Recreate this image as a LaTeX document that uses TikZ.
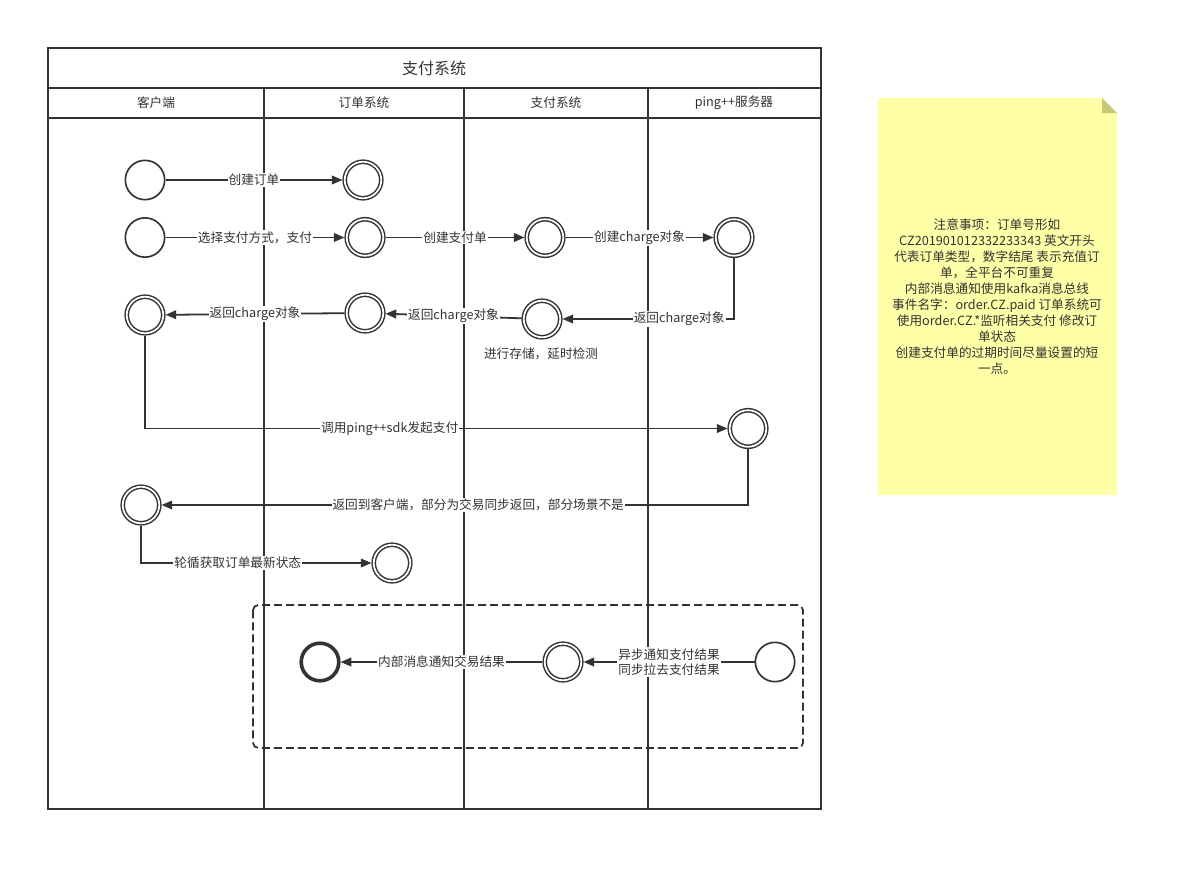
\documentclass[tikz,border=0pt]{standalone}
\usepackage{fontspec}
\setmainfont{Noto Sans CJK SC}
\usetikzlibrary{arrows.meta}
\tikzset{every picture/.style={line width=0.75pt}}
\tikzset{
  pool/.style={draw={rgb, 255:red, 51; green, 51; blue, 51 }, line width=1.5pt},
  lanetitle/.style={text={rgb, 255:red, 51; green, 51; blue, 51 }, font=\fontsize{9.5}{11}\selectfont},
  state/.style={circle, draw={rgb, 255:red, 51; green, 51; blue, 51 }, line width=1.25pt, minimum size=29.5pt, inner sep=0pt, fill=white},
  dstate/.style={circle, draw={rgb, 255:red, 51; green, 51; blue, 51 }, line width=1.1pt, double=white, double distance=1.3pt, minimum size=27.4pt, inner sep=0pt, outer sep=1.7pt},
  endstate/.style={circle, draw={rgb, 255:red, 51; green, 51; blue, 51 }, line width=2.7pt, minimum size=28.2pt, inner sep=0pt, fill=white},
  flow/.style={draw={rgb, 255:red, 51; green, 51; blue, 51 }, line width=1.35pt, -{Triangle[length=8pt,width=6.5pt]}},
  flowlabel/.style={fill=white, inner sep=0.8pt, text={rgb, 255:red, 51; green, 51; blue, 51 }, font=\fontsize{9.5}{11.5}\selectfont, align=center},
}

\begin{document}
\begin{tikzpicture}[x=0.75pt,y=0.75pt,yscale=-1,xscale=1]
\useasboundingbox (0,0) rectangle (1180,872);

%Pool
\draw [pool] (48,48) rectangle (821,809);
\draw [pool] (48,88) -- (821,88);
\draw [pool] (48,118) -- (821,118);
\foreach \lx in {264,464,648} {
  \draw [pool] (\lx,88) -- (\lx,809);
}
\node [text={rgb, 255:red, 51; green, 51; blue, 51 }, font=\fontsize{12}{14}\selectfont] (pooltitle) at (434,68) {支付系统};
\node [lanetitle] (lanekehu) at (156,103) {客户端};
\node [lanetitle] (lanedingdan) at (364,103) {订单系统};
\node [lanetitle] (lanezhifu) at (556,103) {支付系统};
\node [lanetitle] (laneping) at (734,103) {ping++服务器};

%Dashed group
\draw [draw={rgb, 255:red, 51; green, 51; blue, 51 }, line width=1.35pt, dash pattern=on 6pt off 3pt, rounded corners=4pt] (253,605) rectangle (803,748);

%Shape: Circle
\node [state] (kehuA) at (145,180) {};
\node [dstate] (dingdanA) at (363,180) {};
\node [state] (kehuB) at (145,237.5) {};
\node [dstate] (dingdanB) at (365,237.5) {};
\node [dstate] (zhifuA) at (545,237.5) {};
\node [dstate] (pingA) at (734,237.5) {};
\node [dstate] (kehuC) at (145,315) {};
\node [dstate] (dingdanC) at (365,313) {};
\node [dstate] (zhifuB) at (542,319) {};
\node [flowlabel, fill=none] (cunchu) at (541,354) {进行存储，延时检测};
\node [dstate] (pingB) at (748,428.5) {};
\node [dstate] (kehuD) at (141,505) {};
\node [dstate] (dingdanD) at (392,563) {};
\node [endstate] (dingdanE) at (320,662) {};
\node [dstate] (zhifuC) at (563,662) {};
\node [state] (pingC) at (775,662) {};

%Straight Lines
\draw [flow] (kehuA) -- node [flowlabel] {创建订单} (dingdanA);
\draw [flow] (kehuB) -- node [flowlabel] {选择支付方式，支付} (dingdanB);
\draw [flow] (dingdanB) -- node [flowlabel] {创建支付单} (zhifuA);
\draw [flow] (zhifuA) -- node [flowlabel] {创建charge对象} (pingA);
\draw [flow] (pingA) |- node [flowlabel, pos=0.66] {返回charge对象} (zhifuB);
\draw [flow] (zhifuB) -- node [flowlabel] {返回charge对象} (dingdanC);
\draw [flow] (dingdanC) -- node [flowlabel] {返回charge对象} (kehuC);
\draw [flow] (kehuC) |- node [flowlabel, pos=0.71] {调用ping++sdk发起支付} (pingB);
\draw [flow] (pingB) |- node [flowlabel, pos=0.73] {返回到客户端，部分为交易同步返回，部分场景不是} (kehuD);
\draw [flow] (kehuD) |- node [flowlabel, pos=0.71] {轮循获取订单最新状态} (dingdanD);
\draw [flow] (pingC) -- node [flowlabel] {异步通知支付结果\\同步拉去支付结果} (zhifuC);
\draw [flow] (zhifuC) -- node [flowlabel] {内部消息通知交易结果} (dingdanE);

%Shape: Note
\fill [fill={rgb, 255:red, 255; green, 255; blue, 168 }] (878,98) -- (1102,98) -- (1117,113) -- (1117,495) -- (878,495) -- cycle;
\fill [fill={rgb, 255:red, 199; green, 199; blue, 122 }] (1102,98) -- (1117,113) -- (1102,113) -- cycle;
\node [text={rgb, 255:red, 51; green, 51; blue, 51 }, font=\fontsize{9.5}{12}\selectfont, align=center] (notetext) at (997,297) {注意事项：订单号形如\\CZ201901012332233343 英文开头\\代表订单类型，数字结尾 表示充值订\\单，全平台不可重复\\内部消息通知使用kafka消息总线\\事件名字：order.CZ.paid 订单系统可\\使用order.CZ.*监听相关支付 修改订\\单状态\\创建支付单的过期时间尽量设置的短\\一点。};

\end{tikzpicture}
\end{document}
